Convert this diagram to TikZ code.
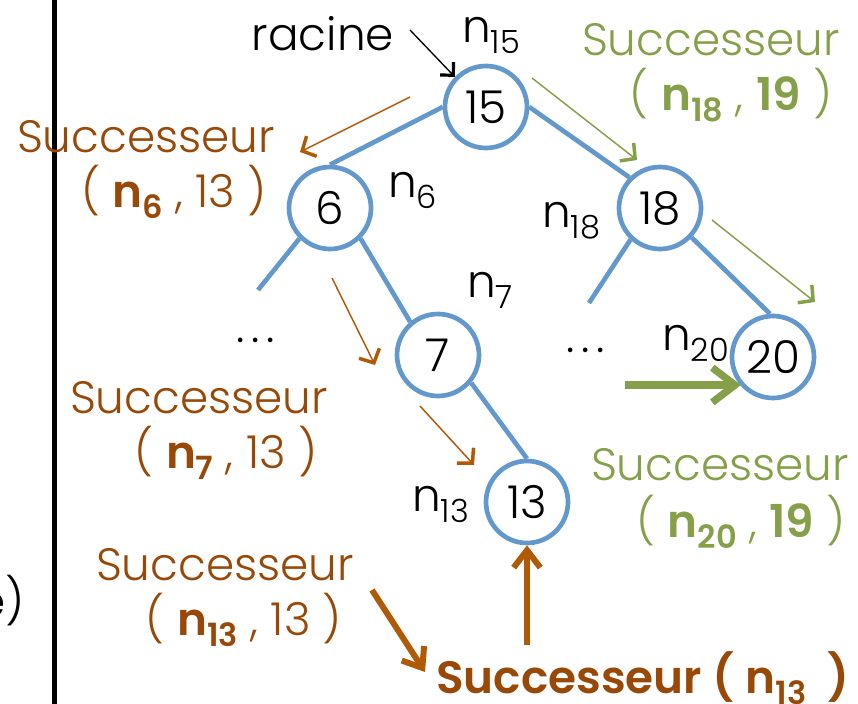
\documentclass[tikz,border=0pt]{standalone}
\usepackage{fontspec}
\IfFontExistsTF{Poppins Light}{%
  \IfFontExistsTF{Poppins SemiBold}{\setmainfont{Poppins Light}[BoldFont=Poppins SemiBold]}{\setmainfont{Poppins Light}[BoldFont=Poppins Bold]}%
}{\setmainfont{Poppins}}
\usetikzlibrary{arrows.meta}
\definecolor{bl}{HTML}{6398CD}
\definecolor{oratxt}{HTML}{984807}
\definecolor{oraarr}{HTML}{B05A08}
\definecolor{grn}{HTML}{86A04A}
\newcommand\sbs[1]{\raisebox{-0.45ex}{\fontsize{24}{24}\selectfont #1}}
\newcommand\mydots{.\kern5pt.\kern5pt.}
\tikzset{
  cnode/.style={circle,draw=bl,line width=3.5pt,minimum size=61.5pt,inner sep=0pt,text=black},
  edge/.style={draw=bl,line width=3.5pt},
  lbl/.style={anchor=base west,inner sep=0pt,text=black},
  txt/.style={anchor=base,inner sep=0pt},
  thinora/.style={draw=oraarr,line width=1.1pt,-{Straight Barb[length=8pt,width=17pt,line width=2.6pt]}},
  thickora/.style={draw=oraarr,line width=4.5pt,-{Straight Barb[length=13pt,width=20pt,line width=4.5pt]}},
  thingrn/.style={draw=grn,line width=1.1pt,-{Straight Barb[length=8pt,width=17pt,line width=2.6pt]}},
  thickgrn/.style={draw=grn,line width=5.5pt,-{Straight Barb[length=17pt,width=26pt,line width=5.5pt]}},
  blkarr/.style={draw=black,line width=1pt,-{Straight Barb[length=7pt,width=14pt,line width=2.4pt]}}
}
\begin{document}
\begin{tikzpicture}[x=0.75pt,y=-0.75pt,font=\fontsize{34}{38}\selectfont]
\useasboundingbox (0,0) rectangle (858,704);
% separator line
\draw[line width=3.75pt] (54.5,0) -- (54.5,704);
\node[anchor=base east,inner sep=0pt] (ecut) at (25,617) {e)};
% tree nodes
\node[cnode] (n15) at (486,107) {15};
\node[cnode] (n6) at (330,208) {6};
\node[cnode] (n18) at (660,208) {18};
\node[cnode] (n7) at (438,355) {7};
\node[cnode] (n20) at (773,357) {20};
\node[cnode] (n13) at (527,502) {13};
\coordinate (l6) at (258,290);
\coordinate (l18) at (589,303);
% edges
\draw[edge] (n15.west) -- (n6.north);
\draw[edge] (n15.east) -- (n18.135);
\draw[edge] (n6.225) -- (l6);
\draw[edge] (n6.315) -- (n7.130);
\draw[edge] (n18.227) -- (l18);
\draw[edge] (n18.317) -- (n20.94);
\draw[edge] (n7.320) -- (n13.north);
% dots
\node[txt] (d1) at (256,342) {\mydots};
\node[txt] (d2) at (586,352) {\mydots};
% labels
\node[txt] (racine) at (323,50) {racine};
\coordinate (ra) at (410,30);
\draw[blkarr] (ra) -- (n15.136);
\node[lbl] (ln15) at (462,42) {n\sbs{15}};
\node[lbl] (ln6) at (388,197) {n\sbs{6}};
\node[lbl] (ln18) at (542,227) {n\sbs{18}};
\node[lbl] (ln7) at (467,297) {n\sbs{7}};
\node[lbl] (ln20) at (662,350) {n\sbs{20}};
\node[lbl] (ln13) at (412,511) {n\sbs{13}};
% orange texts
\node[txt,text=oratxt] (s1a) at (146,152) {Successeur};
\node[txt,text=oratxt] (s1b) at (174,207) {( \textbf{n\sbs{6}} , 13 )};
\node[txt,text=oratxt] (s2a) at (199,413) {Successeur};
\node[txt,text=oratxt] (s2b) at (226,468) {( \textbf{n\sbs{7}} , 13 )};
\node[txt,text=oratxt] (s3a) at (225,580) {Successeur};
\node[txt,text=oratxt] (s3b) at (244,635) {( \textbf{n\sbs{13}} , 13 )};
\node[txt,text=oratxt,font=\fontsize{34}{38}\selectfont\bfseries] (s4) at (643,693) {Successeur ( n\sbs{13}~~)};
% green texts
\node[txt,text=grn] (g1a) at (711,55) {Successeur};
\node[txt,text=grn] (g1b) at (731,110) {( \textbf{n\sbs{18}} , \textbf{19} )};
\node[txt,text=grn] (g2a) at (720,480) {Successeur};
\node[txt,text=grn] (g2b) at (741,537) {( \textbf{n\sbs{20}} , \textbf{19} )};
% orange arrows
\coordinate (o1s) at (410,97);  \coordinate (o1e) at (300,152);
\coordinate (o2s) at (332,278); \coordinate (o2e) at (375,365);
\coordinate (o3s) at (420,406); \coordinate (o3e) at (474,465);
\coordinate (o4s) at (372,590); \coordinate (o4e) at (425,672);
\coordinate (o5s) at (527,645);
\draw[thinora] (o1s) -- (o1e);
\draw[thinora] (o2s) -- (o2e);
\draw[thinora] (o3s) -- (o3e);
\draw[thickora] (o4s) -- (o4e);
\draw[thickora] (o5s) -- (n13.south);
% green arrows
\coordinate (g1s) at (532,78);  \coordinate (g1e) at (637,160);
\coordinate (g2s) at (712,220); \coordinate (g2e) at (815,302);
\coordinate (g3s) at (625,385); \coordinate (g3e) at (741,385);
\draw[thingrn] (g1s) -- (g1e);
\draw[thingrn] (g2s) -- (g2e);
\draw[thickgrn] (g3s) -- (g3e);
\end{tikzpicture}
\end{document}
